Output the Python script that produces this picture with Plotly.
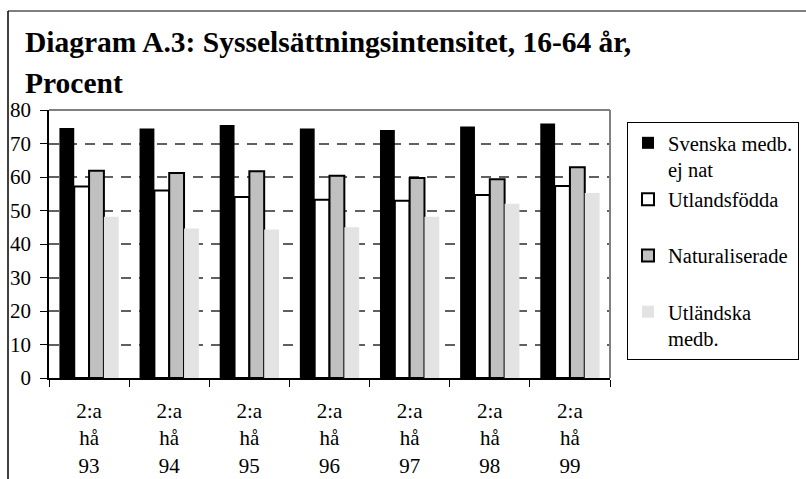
import plotly.graph_objects as go

# Employment intensity, ages 16-64, second half of each year
categories = ["2:a<br>hå<br>93", "2:a<br>hå<br>94", "2:a<br>hå<br>95", "2:a<br>hå<br>96",
              "2:a<br>hå<br>97", "2:a<br>hå<br>98", "2:a<br>hå<br>99"]

svenska_ej_nat = [74.6, 74.5, 75.5, 74.5, 74.0, 75.1, 76.0]
utlandsfodda = [57.2, 56.0, 54.0, 53.2, 52.9, 54.6, 57.3]
naturaliserade = [61.9, 61.2, 61.7, 60.4, 59.7, 59.3, 62.9]
utlandska = [48.1, 44.6, 44.3, 45.0, 48.1, 52.0, 55.2]

series_names = ["Svenska medb.<br>ej nat", "Utlandsfödda<br> ", "Naturaliserade<br> ", "Utländska<br>medb."]
series_values = [svenska_ej_nat, utlandsfodda, naturaliserade, utlandska]
fill_colors = ["#000000", "#ffffff", "#c0c0c0", "#e3e3e3"]
line_widths = [0, 2, 2, 0]

FONT = "Liberation Serif"
W, H = 806, 479
L, R, T, B = 49, 610, 110, 378   # plot area in pixels


def px_x(px):
    return (px - L) / (R - L)


def px_y(py):
    return (B - py) / (B - T)


fig = go.Figure()
for name, vals, col, lw in zip(series_names, series_values, fill_colors, line_widths):
    fig.add_trace(go.Bar(
        x=categories, y=vals, name=name,
        marker=dict(color=col, line=dict(color="#000000", width=lw)),
    ))

shapes = [
    # outer frame
    dict(type="line", xref="paper", yref="paper", x0=px_x(8), x1=px_x(W + 5),
         y0=px_y(11), y1=px_y(11), line=dict(color="#7f7f7f", width=2)),
    dict(type="line", xref="paper", yref="paper", x0=px_x(8), x1=px_x(8),
         y0=px_y(11), y1=px_y(H + 5), line=dict(color="#000000", width=1.5)),
    # plot area top and right border
    dict(type="line", xref="paper", yref="paper", x0=0, x1=1, y0=1, y1=1,
         line=dict(color="#808080", width=2)),
    dict(type="line", xref="paper", yref="paper", x0=1, x1=1, y0=0, y1=1,
         line=dict(color="#808080", width=2)),
]

annotations = [
    dict(text="<b>Diagram A.3: Sysselsättningsintensitet, 16-64 år,</b>", xref="paper", yref="paper",
         x=px_x(23), y=px_y(42), xanchor="left", yanchor="middle", showarrow=False,
         font=dict(family=FONT, size=29.5, color="#000000")),
    dict(text="<b>Procent</b>", xref="paper", yref="paper",
         x=px_x(23), y=px_y(83), xanchor="left", yanchor="middle", showarrow=False,
         font=dict(family=FONT, size=29.5, color="#000000")),
]

fig.update_layout(
    width=W, height=H,
    margin=dict(l=L, r=W - R, t=T, b=H - B, pad=0, autoexpand=False),
    paper_bgcolor="#ffffff", plot_bgcolor="#ffffff",
    barmode="group", bargap=0.26, bargroupgap=0,
    font=dict(family=FONT, size=21, color="#000000"),
    showlegend=True,
    legend=dict(x=px_x(627), y=px_y(122), xanchor="left", yanchor="top",
                bordercolor="#000000", borderwidth=1, bgcolor="#ffffff",
                font=dict(family=FONT, size=20.5, color="#000000"),
                valign="top", traceorder="normal", itemclick=False),
    shapes=shapes, annotations=annotations,
    xaxis=dict(showline=True, linecolor="#000000", linewidth=1.5, automargin=False,
               ticks="outside", ticklen=7, tickcolor="#000000", tickson="boundaries",
               tickfont=dict(family=FONT, size=21), ticklabelstandoff=13, showgrid=False),
    yaxis=dict(range=[0, 80], dtick=10, showline=True, linecolor="#000000", linewidth=1.5,
               automargin=False,
               ticks="outside", ticklen=7, tickcolor="#000000",
               tickfont=dict(family=FONT, size=21), ticklabelstandoff=5,
               showgrid=True, gridcolor="#606060", gridwidth=1.5, griddash="10px,8px",
               zeroline=False),
)

fig.write_html("out.html")
